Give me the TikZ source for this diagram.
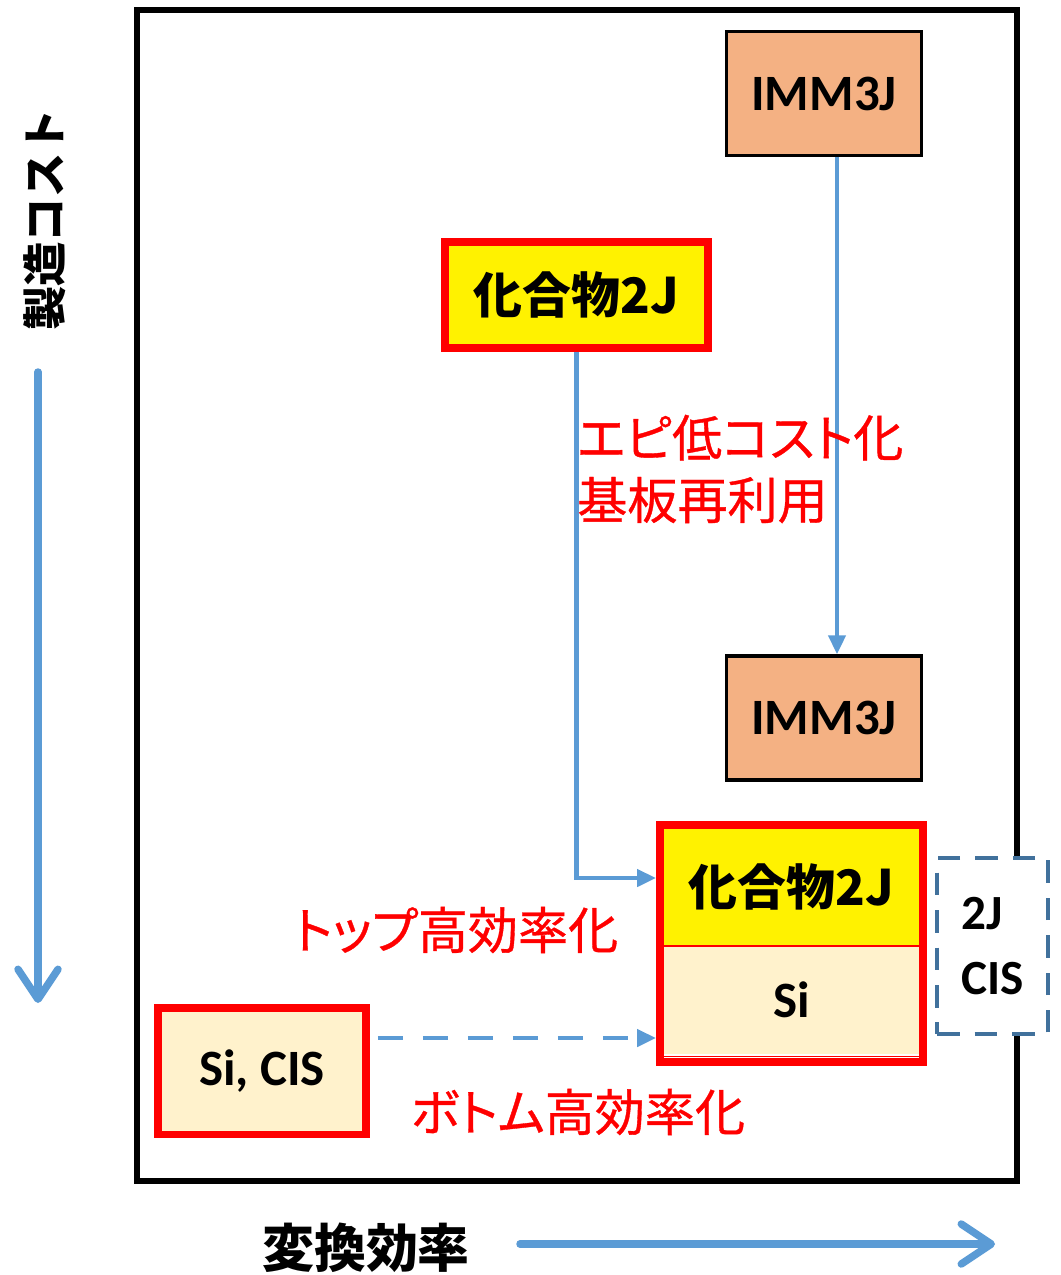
\documentclass[tikz,border=0pt]{standalone}
\usepackage{fontspec}
\setmainfont{Carlito}
\newfontfamily\cjk[Scale=0.87]{Noto Sans CJK JP}
\newfontfamily\cjkmid[FakeBold=0.7, RawFeature=+palt]{Noto Sans CJK JP}
\usetikzlibrary{arrows.meta}
\definecolor{axblue}{HTML}{5B9BD5}
\definecolor{immfill}{HTML}{F4B183}
\definecolor{cream}{HTML}{FFF2CC}
\definecolor{dashblue}{HTML}{41719C}
\tikzset{
  lbl/.style={font=\bfseries\fontsize{29pt}{35pt}\selectfont, text=black},
  cjklbl/.style={font=\cjk\bfseries\fontsize{32pt}{38pt}\selectfont, text=black},
  immbox/.style={lbl, draw=black, line width=0.07cm, fill=immfill, minimum width=3.9cm, minimum height=2.48cm, inner sep=0},
  redbox/.style={draw=red, line width=0.15cm, inner sep=0},
  part/.style={inner sep=0, minimum width=5.12cm},
  dashbox/.style={draw=dashblue, dash pattern=on 0.45cm off 0.3cm, line width=0.07cm, fill=white, minimum width=2.22cm, minimum height=3.52cm, align=left, inner sep=0, text=black, font=\bfseries\fontsize{28pt}{36.5pt}\selectfont},
  redlbl/.style={text=red, inner sep=0, font=\cjkmid\fontsize{28.5pt}{35.5pt}\selectfont},
  axlbl/.style={inner sep=0, font=\cjk\bfseries\fontsize{29pt}{35pt}\selectfont},
  conn/.style={draw=axblue, line width=0.09cm, -{Triangle[length=0.38cm,width=0.34cm]}},
  axarrow/.style={draw=axblue, line width=0.15cm, line cap=round, -{Straight Barb[length=0.6cm,width=0.8cm,round]}},
}
\begin{document}
\begin{tikzpicture}[x=0.02cm, y=-0.02cm]
\useasboundingbox (0,0) rectangle (1061,1275);
% frame
\draw[line width=0.12cm] (136.5,9.5) rectangle (1016.5,1181);
% boxes
\node[immbox] (imm1) at (824,93.5) {IMM3J};
\node[immbox] (imm2) at (824,718) {IMM3J};
\node[redbox, cjklbl, fill=yellow, minimum width=5.27cm, minimum height=2.13cm] (c2a) at (576.5,295) {化合物2J};
\node[part, cjklbl, fill=yellow, minimum height=2.35cm] (comboTop) at (791.5,887.25) {化合物2J};
\node[part, lbl, fill=cream, minimum height=2.16cm] (comboSi) at (791.5,1000) {Si};
\draw[red, line width=0.04cm] (comboTop.south west) -- (comboTop.south east);
\draw[red, line width=0.03cm] (663.5,1056.5) -- (919.5,1056.5);
\node[redbox, minimum width=5.27cm, minimum height=4.75cm] (combo) at (791.5,943.5) {};
\node[dashbox] (cis2j) at (992.5,946) {2J\\CIS};
\node[redbox, lbl, fill=cream, minimum width=4.17cm, minimum height=2.53cm] (sicis) at (262,1071) {Si, CIS};
% connectors
\draw[conn] ([xshift=0.26cm]imm1.south) -- ([xshift=0.26cm]imm2.north);
\draw[conn] (c2a.south) |- (combo.west |- 0,878);
\draw[conn, dash pattern=on 0.5cm off 0.4cm, shorten <=0.16cm] (sicis.east |- 0,1038) -- (combo.west |- 0,1038);
% red labels
\node[redlbl, anchor=west, align=left] (epi) at (577,469) {エピ低コスト化\\基板再利用};
\node[redlbl] (toplbl) at (456,930) {トップ高効率化};
\node[redlbl] (botlbl) at (578,1112) {ボトム高効率化};
% axes
\node[axlbl, rotate=90] (cost) at (45,220) {製造コスト};
\coordinate (c1) at (38,372);
\coordinate (c2) at (38,1003);
\draw[axarrow] (c1) -- (c2);
\node[axlbl, font=\cjk\bfseries\fontsize{34pt}{40pt}\selectfont] (eff) at (366,1248) {変換効率};
\coordinate (e1) at (520,1244);
\coordinate (e2) at (995,1244);
\draw[axarrow] (e1) -- (e2);
\end{tikzpicture}
\end{document}
